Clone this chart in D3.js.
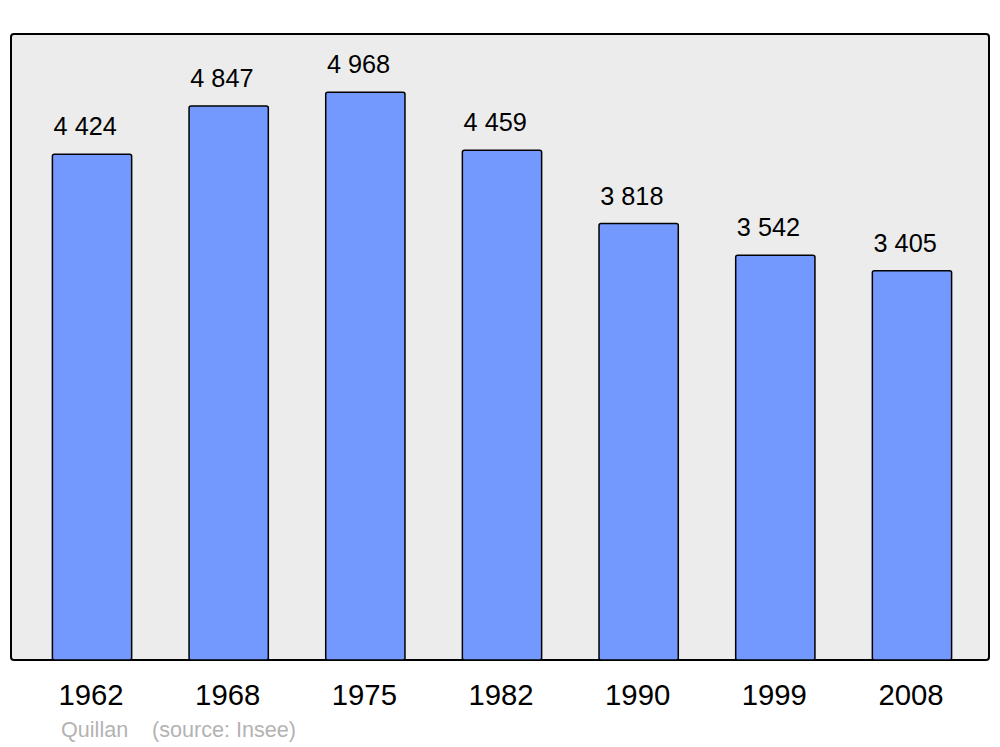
<!DOCTYPE html>
<html>
<head>
<meta charset="utf-8">
<script src="https://cdn.jsdelivr.net/npm/d3@7"></script>
<style>
html,body{margin:0;padding:0;background:#fff;}
svg{display:block;font-family:"Liberation Sans",Arial,sans-serif;}
</style>
</head>
<body>
<svg id="chart" width="1000" height="747"></svg>
<script>
const years = ["1962","1968","1975","1982","1990","1999","2008"];
const population = [4424, 4847, 4968, 4459, 3818, 3542, 3405];
const valueLabels = ["4 424","4 847","4 968","4 459","3 818","3 542","3 405"];
const townName = "Quillan";
const sourceText = "(source: Insee)";

const svg = d3.select("#chart");
const panel = {x: 11, y: 34, w: 978, h: 626};

svg.append("rect")
  .attr("x", panel.x).attr("y", panel.y)
  .attr("width", panel.w).attr("height", panel.h)
  .attr("rx", 3).attr("ry", 3)
  .attr("fill", "#ececec").attr("stroke", "#000").attr("stroke-width", 2);

const x = d3.scaleBand().domain(years).range([23.7, 980.3]).paddingInner(0.42).paddingOuter(0.21);
const y = d3.scaleLinear().domain([0, 5477]).range([panel.y + panel.h, panel.y]);

const data = years.map((yr, i) => ({year: yr, value: population[i], label: valueLabels[i]}));

svg.selectAll("rect.bar").data(data).enter().append("rect")
  .attr("class", "bar")
  .attr("x", d => x(d.year))
  .attr("y", d => y(d.value))
  .attr("width", x.bandwidth())
  .attr("height", d => y(0) - y(d.value))
  .attr("rx", 2).attr("ry", 2)
  .attr("fill", "#7399ff").attr("stroke", "#000").attr("stroke-width", 1.5);

svg.selectAll("text.val").data(data).enter().append("text")
  .attr("class", "val")
  .attr("x", d => x(d.year) + x.bandwidth() / 2 - 6.8)
  .attr("y", d => y(d.value) - 19)
  .attr("text-anchor", "middle")
  .attr("font-size", 25.3)
  .attr("fill", "#000")
  .text(d => d.label);

const xAxis = d3.axisBottom(x).tickSize(0).tickPadding(0);
const ax = svg.append("g").attr("transform", `translate(-1,${panel.y + panel.h})`).call(xAxis);
ax.select(".domain").remove();
ax.selectAll("text")
  .attr("font-size", 29.3)
  .attr("font-family", "Liberation Sans, Arial, sans-serif")
  .attr("fill", "#000")
  .attr("dy", null)
  .attr("y", 45);

svg.append("text").attr("x", 61).attr("y", 737)
  .attr("font-size", 21.6).attr("fill", "#b3b3b3").text(townName);
svg.append("text").attr("x", 152).attr("y", 737)
  .attr("font-size", 21.6).attr("fill", "#b3b3b3").text(sourceText);
</script>
</body>
</html>
